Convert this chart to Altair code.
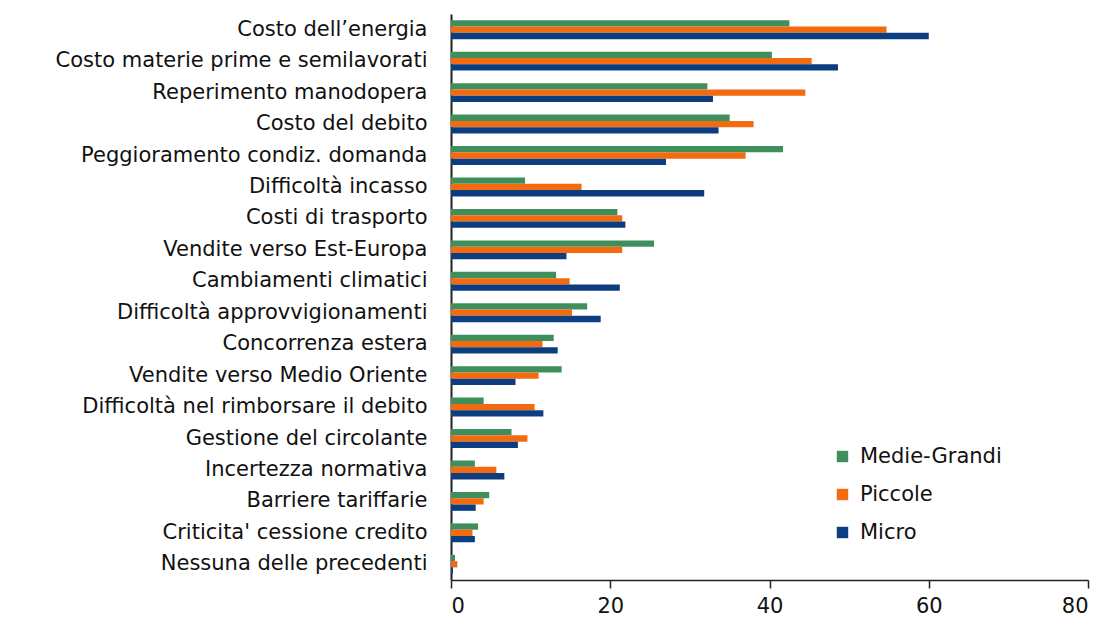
import altair as alt
import pandas as pd

categories = [
    "Costo dell\u2019energia",
    "Costo materie prime e semilavorati",
    "Reperimento manodopera",
    "Costo del debito",
    "Peggioramento condiz. domanda",
    "Difficoltà incasso",
    "Costi di trasporto",
    "Vendite verso Est-Europa",
    "Cambiamenti climatici",
    "Difficoltà approvvigionamenti",
    "Concorrenza estera",
    "Vendite verso Medio Oriente",
    "Difficoltà nel rimborsare il debito",
    "Gestione del circolante",
    "Incertezza normativa",
    "Barriere tariffarie",
    "Criticita' cessione credito",
    "Nessuna delle precedenti",
]

series = ["Medie-Grandi", "Piccole", "Micro"]
colors = ["#3f8f5c", "#f26b10", "#0c3d80"]

medie_grandi = [42.5, 40.3, 32.2, 35.0, 41.7, 9.3, 20.9, 25.5, 13.2, 17.1, 12.9, 13.9, 4.1, 7.6, 3.0, 4.8, 3.4, 0.5]
piccole = [54.7, 45.3, 44.5, 38.0, 37.0, 16.4, 21.5, 21.5, 14.9, 15.2, 11.5, 11.0, 10.5, 9.6, 5.7, 4.1, 2.7, 0.8]
micro = [60.0, 48.6, 32.9, 33.6, 27.0, 31.8, 21.9, 14.5, 21.2, 18.8, 13.4, 8.1, 11.6, 8.4, 6.7, 3.1, 3.0, 0.25]

rows = []
for name, vals in zip(series, [medie_grandi, piccole, micro]):
    for cat, v in zip(categories, vals):
        rows.append({"categoria": cat, "dimensione": name, "valore": v})
df = pd.DataFrame(rows)

FONT = "DejaVu Sans"

chart = alt.Chart(df).mark_bar().encode(
    y=alt.Y(
        "categoria:N",
        sort=categories,
        title=None,
        scale=alt.Scale(paddingInner=0.4, paddingOuter=0.2),
        axis=alt.Axis(
            ticks=False,
            labelPadding=24,
            labelFontSize=21,
            labelFont=FONT,
            labelColor="#111111",
            domainColor="#222222",
            domainWidth=2,
            labelLimit=500,
        ),
    ),
    yOffset=alt.YOffset("dimensione:N", sort=series),
    x=alt.X(
        "valore:Q",
        title=None,
        scale=alt.Scale(domain=[0, 80], nice=False),
        axis=alt.Axis(
            values=[0, 20, 40, 60, 80],
            grid=False,
            tickSize=8,
            tickColor="#222222",
            tickWidth=1.5,
            domainColor="#222222",
            domainWidth=1.5,
            labelFontSize=21,
            labelFont=FONT,
            labelColor="#111111",
            labelPadding=7,
        ),
    ),
    color=alt.Color(
        "dimensione:N",
        sort=series,
        scale=alt.Scale(domain=series, range=colors),
        legend=alt.Legend(
            title=None,
            orient="none",
            legendX=381,
            legendY=432,
            symbolType="square",
            symbolSize=130,
            symbolStrokeWidth=0,
            labelFontSize=21,
            labelFont=FONT,
            labelColor="#111111",
            labelOffset=7,
            rowPadding=16,
            padding=0,
        ),
    ),
).properties(
    width=637,
    height=566,
    autosize=alt.AutoSizeParams(type="none"),
    padding={"left": 451, "top": 14, "right": 21, "bottom": 41},
).configure(background="white").configure_view(stroke=None, strokeWidth=0)

chart.save("out.html", embed_options={"renderer": "svg", "actions": False})
